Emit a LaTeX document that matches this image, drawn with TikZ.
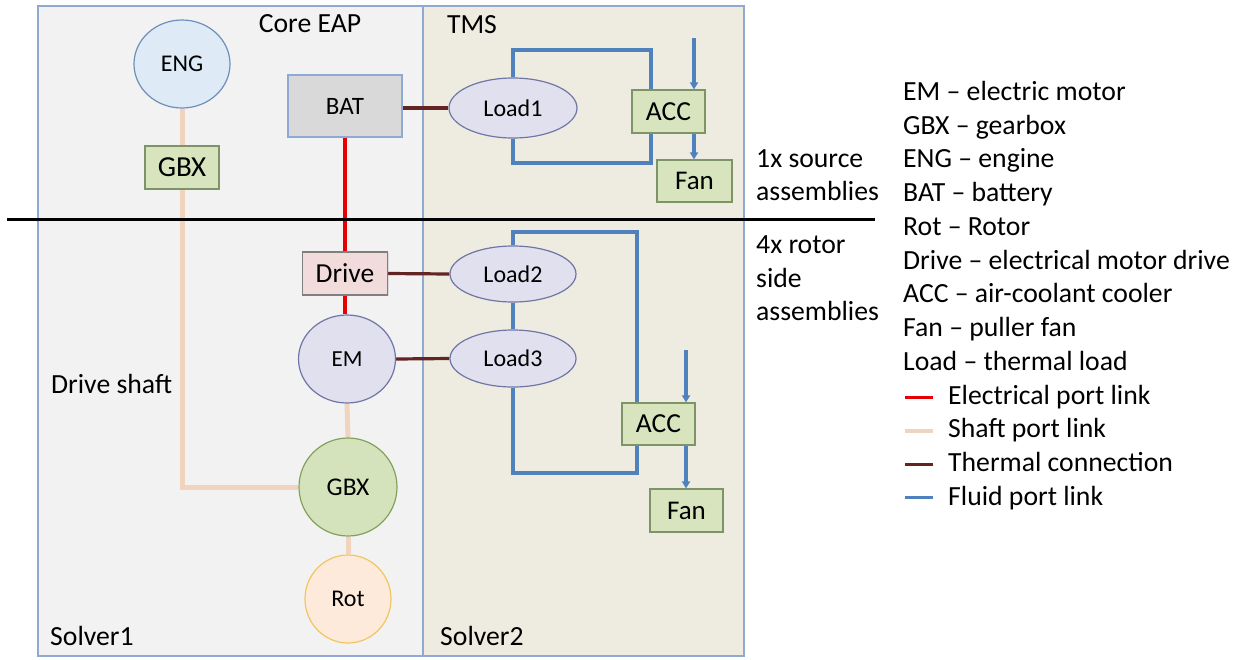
\documentclass[tikz,border=0pt]{standalone}
\usepackage{fontspec}
\setmainfont{Carlito}
\usetikzlibrary{shapes.geometric,arrows.meta,shadows}

\definecolor{panelL}{HTML}{F2F2F2}
\definecolor{panelR}{HTML}{EEECE1}
\definecolor{panelEdge}{HTML}{8DA9D4}
\definecolor{engFill}{HTML}{DEEBF7}
\definecolor{engEdge}{HTML}{6F8FB8}
\definecolor{grnFill}{HTML}{D7E4BD}
\definecolor{grnEdge}{HTML}{7F9466}
\definecolor{batFill}{HTML}{D9D9D9}
\definecolor{batEdge}{HTML}{8DA9D4}
\definecolor{drvFill}{HTML}{F2DCDB}
\definecolor{drvEdge}{HTML}{7F7F7F}
\definecolor{lavFill}{HTML}{E1E0EE}
\definecolor{lavEdge}{HTML}{6F76A6}
\definecolor{gbxFill}{HTML}{D5E3BC}
\definecolor{gbxEdge}{HTML}{84A05C}
\definecolor{rotFill}{HTML}{FDEADA}
\definecolor{rotEdge}{HTML}{F3C55E}
\definecolor{elecC}{HTML}{E60000}
\definecolor{shaftC}{HTML}{F2D4BE}
\definecolor{thermC}{HTML}{632523}
\definecolor{fluidC}{HTML}{4F81BD}

\pgfdeclarelayer{back}
\pgfdeclarelayer{links}
\pgfsetlayers{back,links,main}

\newcommand{\fsz}[1]{\fontsize{#1}{#1}\selectfont}

\tikzset{
  txt/.style={font=\fsz{27.7}, inner sep=0pt},
  panel/.style={draw=panelEdge, line width=1.2pt},
  rbox/.style={rectangle, draw, line width=1.2pt, inner sep=0pt,
    drop shadow={shadow xshift=1.2pt, shadow yshift=-1.2pt, opacity=0.2}},
  oval/.style={ellipse, draw, line width=1.2pt, inner sep=0pt},
  elec/.style={draw=elecC, line width=3.2pt},
  shaft/.style={draw=shaftC, line width=5pt},
  therm/.style={draw=thermC, line width=3.2pt},
  fluid/.style={draw=fluidC, line width=3.4pt},
  flow/.style={fluid, -{Triangle[width=8pt,length=7pt]}},
  divider/.style={draw=black, line width=3pt},
  lgtext/.style={txt, anchor=base west}
}

\begin{document}
\begin{tikzpicture}[x=1pt, y=-1pt]
\useasboundingbox (0,0) rectangle (1244,659);

% page and solver panels
\begin{pgfonlayer}{back}
  \fill[white] (0,0) rectangle (1244,659);
  \filldraw[panel, fill=panelL] (38,6) rectangle (423,656);
  \filldraw[panel, fill=panelR] (423,6) rectangle (744,656);
\end{pgfonlayer}

\node[txt, anchor=base] (coreT) at (310,32.5) {Core EAP};
\node[txt, anchor=base] (tmsT) at (472,33) {TMS};
\node[txt, anchor=base west] (solv1) at (50,645) {Solver1};
\node[txt, anchor=base west] (solv2) at (440,645) {Solver2};
\node[txt, anchor=base west] (dshaft) at (51,393) {Drive shaft};

% components
\node[oval, font=\fsz{24}, fill=engFill, draw=engEdge, minimum width=96pt, minimum height=88pt] (eng) at (182,64) {ENG};
\node[rbox, font=\fsz{29}, fill=grnFill, draw=grnEdge, minimum width=74pt, minimum height=43pt] (gbxA) at (182,167.5) {GBX};
\node[rbox, font=\fsz{25}, fill=batFill, draw=batEdge, minimum width=114pt, minimum height=62pt] (bat) at (345,106) {BAT};
\node[oval, font=\fsz{24}, fill=lavFill, draw=lavEdge, minimum width=128pt, minimum height=60pt] (load1) at (513,108) {Load1};
\node[rbox, font=\fsz{27.5}, fill=grnFill, draw=grnEdge, minimum width=73pt, minimum height=43pt] (acc1) at (668.5,111.5) {ACC};
\node[rbox, font=\fsz{27}, fill=grnFill, draw=grnEdge, minimum width=75pt, minimum height=42pt] (fan1) at (694.5,181) {Fan};

\node[rbox, font=\fsz{27.5}, fill=drvFill, draw=drvEdge, minimum width=85pt, minimum height=43pt] (drive) at (345,273.5) {Drive};
\node[oval, font=\fsz{24}, fill=lavFill, draw=lavEdge, minimum width=126pt, minimum height=56pt] (load2) at (513,274) {Load2};
\node[oval, font=\fsz{23}, fill=lavFill, draw=lavEdge, minimum width=97pt, minimum height=88pt] (em) at (347,359) {EM};
\node[oval, font=\fsz{24}, fill=lavFill, draw=lavEdge, minimum width=126pt, minimum height=57pt] (load3) at (513,358.5) {Load3};
\node[rbox, font=\fsz{27.5}, fill=grnFill, draw=grnEdge, minimum width=73pt, minimum height=42pt] (acc2) at (658.5,424) {ACC};
\node[rbox, font=\fsz{27}, fill=grnFill, draw=grnEdge, minimum width=73pt, minimum height=43pt] (fan2) at (686.5,510.5) {Fan};
\node[oval, font=\fsz{25.5}, fill=gbxFill, draw=gbxEdge, minimum width=98pt, minimum height=98pt] (gbxB) at (348,487) {GBX};
\node[oval, font=\fsz{24}, fill=rotFill, draw=rotEdge, minimum width=86pt, minimum height=88pt] (rot) at (348,599) {Rot};

% free ends of the cooling air inlets
\coordinate (air1) at (694,38);
\coordinate (air2) at (686,350);

\begin{pgfonlayer}{links}
  % electrical
  \draw[elec] (bat.south) -- (drive.north);
  \draw[elec] (drive.south) -- (drive.south |- em.north);
  % shafts
  \draw[shaft] (eng.south) -- (gbxA.north);
  \draw[shaft] (gbxA.south) |- (gbxB.west);
  \draw[shaft] (em.south) -- (gbxB.north);
  \draw[shaft] (gbxB.south) -- (rot.north);
  % thermal
  \draw[therm] (bat.east |- load1.west) -- (load1.west);
  \draw[therm] (drive.east) -- (load2.west);
  \draw[therm] (em.east) -- (load3.west);
  % coolant loop, source assembly
  \draw[fluid] (load1.north) -- (load1.north |- 0,50) -| ([xshift=-17.5pt]acc1.north);
  \draw[fluid] (load1.south) -- (load1.south |- 0,163) -| ([xshift=-17.5pt]acc1.south);
  \draw[flow] (air1) -- (air1 |- acc1.north);
  \draw[flow] (air1 |- acc1.south) -- (air1 |- fan1.north);
  % coolant loop, rotor side assembly
  \draw[fluid] (load2.north) -- (load2.north |- 0,232) -| ([xshift=-21.5pt]acc2.north);
  \draw[fluid] (load2.south) -- (load3.north);
  \draw[fluid] (load3.south) -- (load3.south |- 0,473) -| ([xshift=-21.5pt]acc2.south);
  \draw[flow] (air2) -- (air2 |- acc2.north);
  \draw[flow] (air2 |- acc2.south) -- (air2 |- fan2.north);
\end{pgfonlayer}

% assembly split
\coordinate (divL) at (7,219);
\coordinate (divR) at (875,219);
\draw[divider] (divL) -- (divR);

\node[txt, anchor=base west] (src1) at (756,167) {1x source};
\node[txt, anchor=base west] (src2) at (756,200.5) {assemblies};
\node[txt, anchor=base west] (rs1) at (756,253) {4x rotor};
\node[txt, anchor=base west] (rs2) at (756,287) {side};
\node[txt, anchor=base west] (rs3) at (756,320.5) {assemblies};

% legend
\node[lgtext] (lg1) at (903,100) {EM – electric motor};
\node[lgtext] (lg2) at (903,134) {GBX – gearbox};
\node[lgtext] (lg3) at (903,167.5) {ENG – engine};
\node[lgtext] (lg4) at (903,201) {BAT – battery};
\node[lgtext] (lg5) at (903,235) {Rot – Rotor};
\node[lgtext] (lg6) at (903,269) {Drive – electrical motor drive};
\node[lgtext] (lg7) at (903,302.5) {ACC – air-coolant cooler};
\node[lgtext] (lg8) at (903,336) {Fan – puller fan};
\node[lgtext] (lg9) at (903,370) {Load – thermal load};
\node[lgtext] (lg10) at (948,404) {Electrical port link};
\node[lgtext] (lg11) at (948,437.5) {Shaft port link};
\node[lgtext] (lg12) at (948,471) {Thermal connection};
\node[lgtext] (lg13) at (948,505) {Fluid port link};
\coordinate (k1) at (905,397);
\coordinate (k2) at (905,431);
\coordinate (k3) at (905,464);
\coordinate (k4) at (905,497);
\draw[draw=elecC, line width=3pt] (k1) -- ++(28,0);
\draw[draw=shaftC, line width=3.4pt] (k2) -- ++(28,0);
\draw[draw=thermC, line width=3pt] (k3) -- ++(28,0);
\draw[draw=fluidC, line width=3pt] (k4) -- ++(28,0);
\end{tikzpicture}
\end{document}
